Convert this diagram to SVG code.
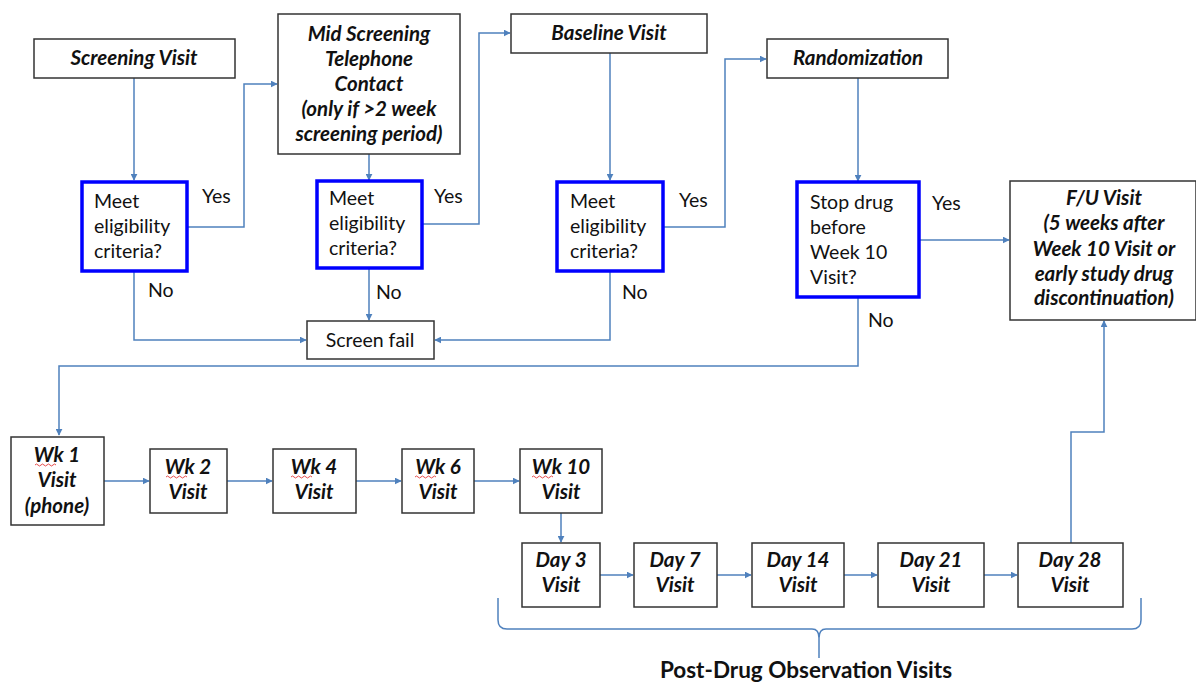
<svg xmlns="http://www.w3.org/2000/svg" width="1196" height="683" viewBox="0 0 1196 683">
<style>
.box{fill:#fff;stroke:#333;stroke-width:1.5}
.dec{fill:#fff;stroke:#0000ff;stroke-width:3.5}
.t{font-family:Lato,"Liberation Sans",sans-serif;font-size:19.5px;fill:#111}
.bi{font-weight:bold;font-style:italic;text-anchor:middle;font-size:20.5px}
.pd{font-weight:bold;font-size:22.5px;text-anchor:middle}
.c{fill:none;stroke:#4f81bd;stroke-width:1.5}
.sq{fill:none;stroke:#e02020;stroke-width:0.8}
</style>
<defs>
<marker id="a" viewBox="0 0 10 10" refX="9" refY="5" markerWidth="7" markerHeight="7" markerUnits="userSpaceOnUse" orient="auto"><path d="M0,0 L10,5 L0,10 z" fill="#4f81bd"/></marker>
</defs>
<rect width="1196" height="683" fill="#fff"/>
<g id="connectors">
<path class="c" d="M134,78 V180" marker-end="url(#a)"/>
<path class="c" d="M187,227 H244 V84 H277" marker-end="url(#a)"/>
<path class="c" d="M134,271 V340 H306" marker-end="url(#a)"/>
<path class="c" d="M369,154 V180" marker-end="url(#a)"/>
<path class="c" d="M422,224 H479 V33 H510" marker-end="url(#a)"/>
<path class="c" d="M369,268 V320" marker-end="url(#a)"/>
<path class="c" d="M610,53 V180" marker-end="url(#a)"/>
<path class="c" d="M663,227 H725 V59 H766" marker-end="url(#a)"/>
<path class="c" d="M610,271 V340 H435" marker-end="url(#a)"/>
<path class="c" d="M858,78 V181" marker-end="url(#a)"/>
<path class="c" d="M919,240 H1009" marker-end="url(#a)"/>
<path class="c" d="M858,297 V366 H59 V435" marker-end="url(#a)"/>
<path class="c" d="M104,481 H149" marker-end="url(#a)"/>
<path class="c" d="M227,481 H272" marker-end="url(#a)"/>
<path class="c" d="M356,481 H401" marker-end="url(#a)"/>
<path class="c" d="M474,481 H519" marker-end="url(#a)"/>
<path class="c" d="M561,513 V542" marker-end="url(#a)"/>
<path class="c" d="M600,575 H633" marker-end="url(#a)"/>
<path class="c" d="M717,575 H751" marker-end="url(#a)"/>
<path class="c" d="M844,575 H877" marker-end="url(#a)"/>
<path class="c" d="M984,575 H1017" marker-end="url(#a)"/>
<path class="c" d="M1071,543 V432 H1104 V321" marker-end="url(#a)"/>
<path class="c" d="M498,598 V620 Q498,629 507,629 H812 Q819,629 819,638 V658 M819,638 Q819,629 826,629 H1132 Q1141,629 1141,620 V598"/>
</g>
<g id="labels" class="t">
<text x="202" y="203">Yes</text>
<text x="148" y="297">No</text>
<text x="434" y="203">Yes</text>
<text x="376" y="299">No</text>
<text x="679" y="207">Yes</text>
<text x="622" y="299">No</text>
<text x="932" y="210">Yes</text>
<text x="868" y="327">No</text>
</g>
<g id="screening"><rect class="box" x="34" y="39" width="201" height="39"/><text class="t bi" x="134" y="65">Screening Visit</text></g>
<g id="midscreen"><rect class="box" x="278" y="14" width="182" height="140"/>
<text class="t bi" x="369" y="41">Mid Screening</text><text class="t bi" x="369" y="66">Telephone</text><text class="t bi" x="369" y="91">Contact</text><text class="t bi" x="369" y="116">(only if &gt;2 week</text><text class="t bi" x="369" y="141">screening period)</text></g>
<g id="meet1"><rect class="dec" x="82" y="182" width="105" height="89"/><text class="t" x="94" y="208">Meet</text><text class="t" x="94" y="233">eligibility</text><text class="t" x="94" y="258">criteria?</text></g>
<g id="meet2"><rect class="dec" x="317" y="181" width="105" height="87"/><text class="t" x="329" y="205">Meet</text><text class="t" x="329" y="230">eligibility</text><text class="t" x="329" y="255">criteria?</text></g>
<g id="screenfail"><rect class="box" x="307" y="321" width="127" height="38"/><text class="t" x="370" y="347" text-anchor="middle">Screen fail</text></g>
<g id="baseline"><rect class="box" x="511" y="14" width="196" height="39"/><text class="t bi" x="609" y="40">Baseline Visit</text></g>
<g id="meet3"><rect class="dec" x="557" y="182" width="106" height="89"/><text class="t" x="570" y="208">Meet</text><text class="t" x="570" y="233">eligibility</text><text class="t" x="570" y="258">criteria?</text></g>
<g id="randomization"><rect class="box" x="767" y="39" width="181" height="39"/><text class="t bi" x="858" y="65">Randomization</text></g>
<g id="stopdrug"><rect class="dec" x="797" y="182" width="122" height="115"/><text class="t" x="810" y="209">Stop drug</text><text class="t" x="810" y="234">before</text><text class="t" x="810" y="259">Week 10</text><text class="t" x="810" y="284">Visit?</text></g>
<g id="fu"><rect class="box" x="1010" y="181" width="186" height="139"/>
<text class="t bi" x="1104" y="205">F/U Visit</text><text class="t bi" x="1104" y="230">(5 weeks after</text><text class="t bi" x="1104" y="256">Week 10 Visit or</text><text class="t bi" x="1104" y="281">early study drug</text><text class="t bi" x="1104" y="305">discontinuation)</text></g>
<g id="wk1"><rect class="box" x="11" y="437" width="93" height="88"/><text class="t bi" x="57" y="462">Wk 1</text><text class="t bi" x="57" y="487">Visit</text><text class="t bi" x="57" y="513">(phone)</text><path class="sq" d="M35,465 q1.5,-2 3,0 t3,0 t3,0 t3,0 t3,0 t3,0 t3,0"/></g>
<g id="wk2"><rect class="box" x="150" y="449" width="77" height="64"/><text class="t bi" x="188" y="474">Wk 2</text><text class="t bi" x="188" y="499">Visit</text><path class="sq" d="M166,477 q1.5,-2 3,0 t3,0 t3,0 t3,0 t3,0 t3,0 t3,0"/></g>
<g id="wk4"><rect class="box" x="273" y="449" width="83" height="64"/><text class="t bi" x="314" y="474">Wk 4</text><text class="t bi" x="314" y="499">Visit</text><path class="sq" d="M291,477 q1.5,-2 3,0 t3,0 t3,0 t3,0 t3,0 t3,0 t3,0"/></g>
<g id="wk6"><rect class="box" x="402" y="449" width="72" height="64"/><text class="t bi" x="438" y="474">Wk 6</text><text class="t bi" x="438" y="499">Visit</text><path class="sq" d="M415,477 q1.5,-2 3,0 t3,0 t3,0 t3,0 t3,0 t3,0 t3,0"/></g>
<g id="wk10"><rect class="box" x="520" y="449" width="82" height="64"/><text class="t bi" x="561" y="474">Wk 10</text><text class="t bi" x="561" y="499">Visit</text><path class="sq" d="M532,477 q1.5,-2 3,0 t3,0 t3,0 t3,0 t3,0 t3,0 t3,0"/></g>
<g id="day3"><rect class="box" x="522" y="543" width="78" height="64"/><text class="t bi" x="561" y="567">Day 3</text><text class="t bi" x="561" y="592">Visit</text></g>
<g id="day7"><rect class="box" x="634" y="543" width="83" height="64"/><text class="t bi" x="675" y="567">Day 7</text><text class="t bi" x="675" y="592">Visit</text></g>
<g id="day14"><rect class="box" x="752" y="543" width="92" height="64"/><text class="t bi" x="798" y="567">Day 14</text><text class="t bi" x="798" y="592">Visit</text></g>
<g id="day21"><rect class="box" x="878" y="543" width="106" height="64"/><text class="t bi" x="931" y="567">Day 21</text><text class="t bi" x="931" y="592">Visit</text></g>
<g id="day28"><rect class="box" x="1018" y="543" width="105" height="64"/><text class="t bi" x="1070" y="567">Day 28</text><text class="t bi" x="1070" y="592">Visit</text></g>
<g id="postdrug"><text class="t pd" x="806" y="678">Post-Drug Observation Visits</text></g>
</svg>
